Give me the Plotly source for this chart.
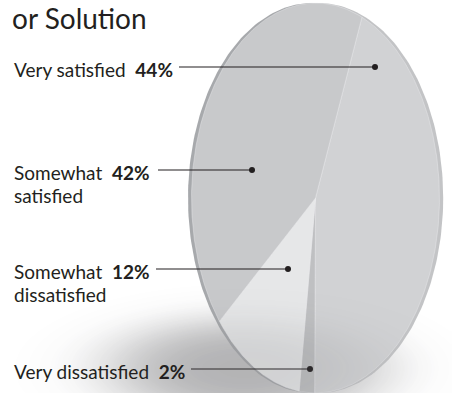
import numpy as np
import plotly.graph_objects as go

# Survey shares, listed clockwise from the top-right boundary of the disc
categories = ["Very satisfied", "Very dissatisfied", "Somewhat dissatisfied", "Somewhat satisfied"]
shares = [44, 2, 12, 42]
slice_colors = ["#d1d2d4", "#bfc0c2", "#e6e7e8", "#c8c9cb"]

# Label text (first line, bold percentage, optional second line)
label_first = ["Very satisfied", "Somewhat", "Somewhat", "Very dissatisfied"]
label_second = ["", "satisfied", "dissatisfied", ""]
label_pct = ["44%", "42%", "12%", "2%"]

W, H = 452, 393

# Disc geometry in pixel-like axis units
CX, CY, RX, RY = 315.5, 198.0, 124.0, 195.0
START_DEG = 68.0   # boundary between first and last slice, measured CCW from +x

def ellipse_pts(cx, cy, rx, ry, t0, t1, n=120):
    t = np.radians(np.linspace(t0, t1, n))
    return cx + rx * np.cos(t), cy - ry * np.sin(t)

fig = go.Figure()

# soft floor shadow (below the disc)
gx = np.arange(0, W + 1, 3.0)
gy = np.arange(260, H + 1, 2.0)
GX, GY = np.meshgrid(gx, gy)
rr = ((GX - 244) / 136.0) ** 2 + ((GY - 368) / 50.0) ** 2
shadow = np.exp(-rr ** 1.6)
fig.add_trace(go.Heatmap(
    x=gx, y=gy, z=shadow, zmin=0, zmax=1, zsmooth="best", showscale=False,
    colorscale=[[0, "rgba(105,105,108,0)"], [1, "rgba(105,105,108,0.40)"]],
    hoverinfo="skip"))

# disc rim: darker on the left, lighter on the right
for dx, col in [(-3.2, "#a7a9ac"), (3.4, "#c3c4c6")]:
    ex, ey = ellipse_pts(CX + dx, CY, RX + 0.3, RY, 0, 360, 240)
    fig.add_trace(go.Scatter(x=ex, y=ey, mode="lines", fill="toself",
                             fillcolor=col, line=dict(width=0),
                             hoverinfo="skip", showlegend=False))

# pie slices on the tilted disc, angles derived from the shares
total = float(sum(shares))
angle = START_DEG
for name, val, col in zip(categories, shares, slice_colors):
    sweep = 360.0 * val / total
    ex, ey = ellipse_pts(CX, CY, RX, RY, angle, angle - sweep, max(8, int(sweep * 2)))
    px = np.concatenate([[CX], ex, [CX]])
    py = np.concatenate([[CY], ey, [CY]])
    fig.add_trace(go.Scatter(x=px, y=py, mode="lines", fill="toself",
                             fillcolor=col, line=dict(color="rgba(240,240,241,0.55)", width=0.7),
                             name=name, hoverinfo="name", showlegend=False))
    angle -= sweep

# faint shadow haze over the lower part of the disc
fig.add_trace(go.Heatmap(
    x=gx, y=gy, z=shadow, zmin=0, zmax=1, zsmooth="best", showscale=False,
    colorscale=[[0, "rgba(105,105,108,0)"], [1, "rgba(105,105,108,0.16)"]],
    hoverinfo="skip", xaxis="x2", yaxis="y2"))

# leader lines: from end of label to dot on the slice
line_start_x = [179, 158, 156, 191]
line_y = [67, 170, 269, 369]
dot_x = [375, 252, 288, 310]

ink = "#231f20"
for i in range(len(categories)):
    fig.add_trace(go.Scatter(x=[line_start_x[i], dot_x[i]], y=[line_y[i], line_y[i]],
                             mode="lines", line=dict(color=ink, width=1.2),
                             hoverinfo="skip", showlegend=False))
fig.add_trace(go.Scatter(x=dot_x, y=line_y, mode="markers",
                         marker=dict(color=ink, size=6), hoverinfo="skip", showlegend=False))

FONT = "Lato"
annotations = []
for i in range(len(categories)):
    annotations.append(dict(
        x=12, y=line_y[i] + 2, xref="x", yref="y", xanchor="left", yanchor="middle",
        text=f"{label_first[i]}  <b>{label_pct[i]}</b>", showarrow=False,
        font=dict(family=FONT, size=19, color=ink)))
    if label_second[i]:
        annotations.append(dict(
            x=12, y=line_y[i] + 25, xref="x", yref="y", xanchor="left", yanchor="middle",
            text=label_second[i], showarrow=False,
            font=dict(family=FONT, size=19, color=ink)))

# heading line
annotations.append(dict(
    x=10, y=0.5, xref="x", yref="y", xanchor="left", yanchor="top", yshift=2,
    text="or Solution", showarrow=False,
    font=dict(family=FONT, size=28, color=ink)))

axis_common = dict(visible=False, showgrid=False, zeroline=False, fixedrange=True)
fig.update_layout(
    width=W, height=H, autosize=False,
    margin=dict(l=0, r=0, t=0, b=0),
    paper_bgcolor="white", plot_bgcolor="white",
    showlegend=False,
    xaxis=dict(range=[0, W], **axis_common),
    yaxis=dict(range=[H, 0], **axis_common),
    xaxis2=dict(range=[0, W], overlaying="x", **axis_common),
    yaxis2=dict(range=[H, 0], overlaying="y", **axis_common),
    annotations=annotations,
)

fig.write_html("out.html")
